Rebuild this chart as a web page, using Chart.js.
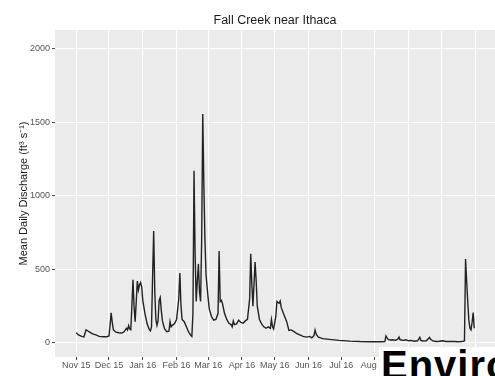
<!DOCTYPE html>
<html>
<head>
<meta charset="utf-8">
<script src="https://cdn.jsdelivr.net/npm/chart.js@4.4.0/dist/chart.umd.min.js"></script>
<style>
  body { margin: 0; background: #fff; }
  #wrap { position: relative; width: 495px; height: 376px; overflow: hidden; }
  #stamp { position: absolute; left: 379px; top: 347px; right: 0; bottom: 0; background: #fff; overflow: hidden; }
  #stamp span { display: block; margin: -2px 0 0 2px; font: bold 40px "Liberation Sans", Arial, sans-serif; line-height: 40px; letter-spacing: 1px; color: #000; white-space: nowrap; }
</style>
</head>
<body>
<div id="wrap">
  <canvas id="chart"></canvas>
  <div id="stamp"><span>Environment</span></div>
</div>
<script>
// days since 1 Nov 2015, mean daily discharge (ft3/s)
const days = [0, 2, 5, 7, 9, 10, 12, 15, 18, 21, 25, 28, 30, 31, 32, 33, 34, 36, 39, 42, 44, 46, 47, 48, 49, 50,
  51, 52, 53, 54, 55, 56, 57, 58, 59, 60, 61, 63, 65, 67, 68, 69, 70, 71, 72, 73, 74, 75, 76, 77, 78, 79, 81, 83, 85, 86,
  87, 88, 90, 92, 94, 95, 96, 97, 99, 101, 103, 105, 106, 107, 108, 109, 110, 111, 112, 113, 114, 115, 116, 117, 118, 119,
  120, 121, 122, 124, 126, 128, 130, 131, 132, 133, 134, 136, 138, 140, 142, 143, 144, 145, 147, 149, 151, 153, 155, 157,
  159, 160, 161, 162, 163, 164, 165, 166, 168, 170, 172, 174, 176, 178, 179, 180, 181, 183, 184, 185, 186, 187, 188, 190,
  193, 195, 197, 199, 202, 205, 208, 211, 214, 216, 218, 219, 220, 222, 226, 232, 241, 251, 260, 270, 280, 283, 284, 285,
  286, 288, 290, 293, 295, 296, 297, 300, 302, 305, 307, 310, 313, 315, 316, 318, 321, 324, 325, 327, 330, 333, 336, 339,
  343, 347, 350, 353, 355, 356, 357, 358, 359, 360, 361, 362, 363, 364, 365];
const discharge = [70, 55, 45, 42, 90, 85, 75, 62, 55, 45, 42, 42, 48, 120, 205, 140, 90, 75, 70, 68, 78, 100, 88, 118, 95, 90,
  250, 430, 250, 145, 280, 420, 360, 395, 410, 380, 290, 200, 130, 90, 82, 110, 450, 760, 350, 160, 120, 150, 290, 310, 220, 150, 95, 77, 80, 145,
  110, 120, 130, 160, 300, 475, 260, 160, 145, 110, 75, 52, 45, 200, 1170, 600, 282, 418, 537, 350, 282, 700, 1555, 1077, 700, 463,
  380, 300, 230, 180, 155, 160, 200, 625, 282, 290, 270, 200, 160, 134, 125, 110, 150, 125, 130, 155, 140, 135, 150, 160,
  300, 605, 400, 250, 400, 550, 420, 250, 160, 130, 110, 100, 110, 100, 160, 110, 95, 180, 282, 275, 270, 285, 240, 200,
  145, 85, 89, 80, 66, 55, 45, 40, 45, 35, 50, 88, 60, 40, 30, 25, 18, 13, 10, 9, 9, 10, 48, 35,
  25, 20, 22, 18, 28, 40, 22, 18, 22, 15, 18, 12, 15, 38, 18, 14, 15, 38, 25, 14, 10, 12, 15, 10,
  10, 10, 9, 10, 12, 15, 570, 420, 280, 157, 100, 89, 140, 207, 100];

const monthTicks = [0, 30, 61, 92, 121, 152, 182, 213, 243, 274, 305, 335, 366];
const monthLabels = ["Nov 15", "Dec 15", "Jan 16", "Feb 16", "Mar 16", "Apr 16", "May 16", "Jun 16",
  "Jul 16", "Aug 16", "Sep 16", "Oct 16", "Nov 16"];
const yTicks = [0, 500, 1000, 1500, 2000];

const FONT = '"Liberation Sans", Arial, sans-serif';

// grey ggplot-style panel behind the grid
const panelBg = {
  id: 'panelBg',
  beforeDraw(chart) {
    const { ctx, chartArea: a } = chart;
    ctx.save();
    ctx.fillStyle = '#ebebeb';
    ctx.fillRect(a.left, a.top, a.right - a.left, a.bottom - a.top);
    ctx.restore();
  }
};

new Chart(document.getElementById('chart'), {
  type: 'line',
  data: {
    datasets: [{
      data: days.map((d, i) => ({ x: d, y: discharge[i] })),
      borderColor: '#222222',
      borderWidth: 1.4,
      pointRadius: 0,
      tension: 0,
      fill: false
    }]
  },
  options: {
    responsive: true,
    maintainAspectRatio: false,
    animation: false,
    layout: { padding: 0 },
    scales: {
      x: {
        type: 'linear',
        min: -19.5,
        max: 384,
        afterBuildTicks: s => { s.ticks = monthTicks.map(v => ({ value: v })); },
        afterFit: s => { s.height = 19; },
        ticks: {
          autoSkip: false,
          maxRotation: 0,
          padding: 0,
          color: '#555',
          font: { family: FONT, size: 9 },
          callback: (v) => monthLabels[monthTicks.indexOf(v)]
        },
        grid: { color: '#ffffff', lineWidth: 1.1, tickLength: 3, tickColor: '#444', tickWidth: 1 },
        border: { display: false }
      },
      y: {
        min: -95,
        max: 2125,
        afterBuildTicks: s => { s.ticks = yTicks.map(v => ({ value: v })); },
        afterFit: s => { s.width = 55; },
        ticks: {
          padding: 2,
          color: '#555',
          font: { family: FONT, size: 9 },
          callback: (v) => String(v)
        },
        grid: { color: '#ffffff', lineWidth: 1.1, tickLength: 3, tickColor: '#444', tickWidth: 1 },
        border: { display: false },
        title: {
          display: true,
          text: 'Mean Daily Discharge (ft³ s⁻¹)',
          color: '#1a1a1a',
          font: { family: FONT, size: 11 },
          padding: { top: 17, bottom: 0 }
        }
      }
    },
    plugins: {
      legend: { display: false },
      tooltip: { enabled: false },
      title: {
        display: true,
        fullSize: false,
        text: 'Fall Creek near Ithaca',
        color: '#1a1a1a',
        font: { family: FONT, size: 12.5, weight: 'normal' },
        padding: { top: 13, bottom: 2 }
      }
    }
  },
  plugins: [panelBg]
});
</script>
</body>
</html>
